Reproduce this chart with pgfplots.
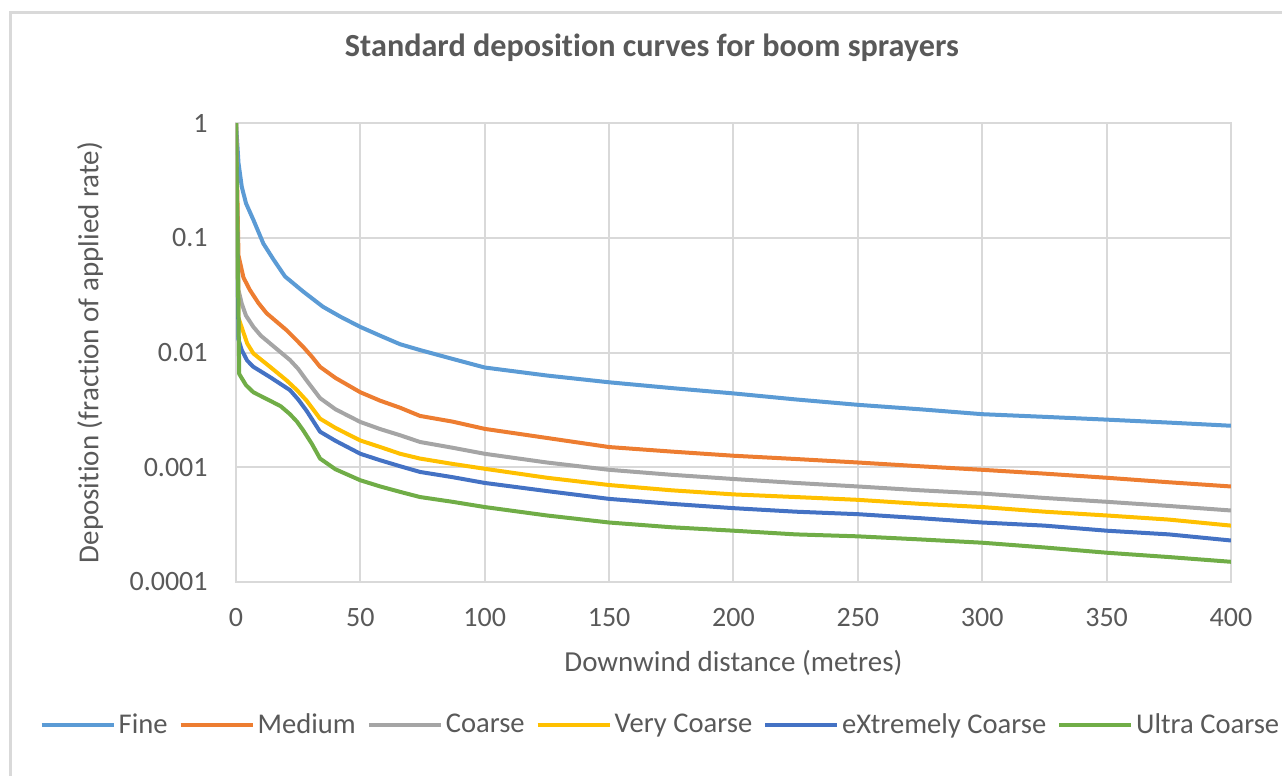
\documentclass[border=0pt]{standalone}
\usepackage{pgfplots}
\pgfplotsset{compat=1.18}
\usepackage{fontspec}
\setmainfont{Carlito}[Ligatures=NoCommon]
\definecolor{txt}{HTML}{595959}
\definecolor{gridc}{HTML}{D9D9D9}
\definecolor{frame}{HTML}{D9D9D9}
\definecolor{cFine}{HTML}{5B9BD5}
\definecolor{cMed}{HTML}{ED7D31}
\definecolor{cCoarse}{HTML}{A5A5A5}
\definecolor{cVC}{HTML}{FFC000}
\definecolor{cEC}{HTML}{4472C4}
\definecolor{cUC}{HTML}{70AD47}
\begin{document}
\begin{tikzpicture}
\useasboundingbox (-118pt,-97pt) rectangle (523pt,291pt);
\draw[color=frame, line width=1.5pt] (-112.5pt,-130pt) rectangle (560pt,284.75pt);
\begin{axis}[
  at={(0,0)}, anchor=south west,
  scale only axis, width=497.5pt, height=229.5pt,
  xmin=0, xmax=400, ymin=1e-4, ymax=1, ymode=log, log basis y=10,
  xtick={0,50,...,400},
  ytick={1e-4,1e-3,1e-2,1e-1,1},
  yticklabels={0.0001,0.001,0.01,0.1,1},
  yminorticks=false,
  grid=major,
  major grid style={draw=gridc, line width=1pt},
  axis line style={draw=gridc, line width=1pt},
  major tick length=0pt,
  tick style={draw=none},
  /pgf/number format/assume math mode=true,
  tick label style={font=\fontsize{14}{16}\selectfont, text=txt, inner sep=0pt},
  xticklabel style={anchor=center, yshift=-18pt},
  yticklabel style={anchor=east, xshift=-14pt},
  title={Standard deposition curves for boom sprayers},
  title style={at={(axis description cs:0.418,1.1373)}, anchor=center, font=\bfseries\fontsize{16.1}{19}\selectfont, text=txt},
  xlabel={Downwind distance (metres)},
  xlabel style={at={(axis description cs:0.5,-0.1765)}, anchor=center, font=\fontsize{14.5}{17}\selectfont, text=txt},
  ylabel={Deposition (fraction of applied rate)},
  ylabel style={at={(axis description cs:-0.1467,0.5)}, anchor=center, rotate=0, font=\fontsize{14.5}{17}\selectfont, text=txt},
  legend style={at={(axis description cs:0.4266,-0.3115)}, anchor=center, draw=none, fill=none,
    font=\fontsize{14.3}{17}\selectfont, text=txt, nodes={inner sep=1pt},
    /tikz/every odd column/.append style={column sep=0.5pt},
    /tikz/every even column/.append style={column sep=4.5pt}},
  legend columns=-1,
  legend image code/.code={\draw[#1, line width=2pt] (0pt,0pt) -- (36pt,0pt);},
  every axis plot/.append style={line width=2pt, line join=round, mark=none},
]
\addplot[cFine] coordinates {(0,1) (1,0.45) (2.3,0.28) (4,0.2) (7,0.143) (11,0.089) (15,0.065) (19.7,0.046) (27,0.034) (35,0.025) (42,0.0205) (50,0.0167) (58,0.014) (66,0.0118) (74,0.0105) (87,0.0088) (100,0.0074) (125,0.0063) (150,0.0055) (175,0.0049) (200,0.0044) (225,0.0039) (250,0.0035) (275,0.0032) (300,0.0029) (325,0.00275) (350,0.0026) (375,0.00245) (400,0.0023)};
\addlegendentry{Fine}
\addplot[cMed] coordinates {(0,1) (1,0.07) (3,0.045) (5.6,0.035) (9,0.027) (12.3,0.022) (20.4,0.0156) (27,0.0112) (30.5,0.0092) (33.8,0.0075) (40,0.006) (50,0.0045) (58,0.0038) (66,0.0033) (74,0.0028) (87,0.0025) (100,0.00216) (125,0.0018) (150,0.0015) (175,0.00137) (200,0.00126) (225,0.00118) (250,0.0011) (275,0.00102) (300,0.00095) (325,0.00088) (350,0.00081) (375,0.00074) (400,0.00068)};
\addlegendentry{Medium}
\addplot[cCoarse] coordinates {(0,1) (1,0.035) (2.3,0.0267) (4,0.021) (7,0.0167) (10,0.014) (13.7,0.012) (21.7,0.0086) (25,0.0072) (28.4,0.0057) (33.8,0.004) (40,0.0032) (50,0.00248) (58,0.00215) (66,0.0019) (74,0.00166) (87,0.00148) (100,0.00131) (125,0.0011) (150,0.00095) (175,0.00086) (200,0.00079) (225,0.00073) (250,0.00068) (275,0.00063) (300,0.00059) (325,0.00054) (350,0.0005) (375,0.00046) (400,0.00042)};
\addlegendentry{Coarse}
\addplot[cVC] coordinates {(0,1) (1,0.02) (2.7,0.0156) (4.5,0.012) (7,0.0098) (13.7,0.0075) (20.4,0.0057) (24.5,0.0047) (28.4,0.0038) (33.8,0.00265) (40,0.0022) (50,0.00171) (58,0.0015) (66,0.00131) (74,0.00119) (87,0.00107) (100,0.00097) (125,0.00081) (150,0.0007) (175,0.00063) (200,0.00058) (225,0.00055) (250,0.00052) (275,0.00048) (300,0.00045) (325,0.00041) (350,0.00038) (375,0.00035) (400,0.00031)};
\addlegendentry{Very Coarse}
\addplot[cEC] coordinates {(0,1) (1,0.013) (2.3,0.0105) (4.5,0.0085) (7,0.0075) (13.7,0.0061) (21.7,0.0047) (25,0.0039) (28.4,0.0031) (33.8,0.00204) (40,0.0017) (50,0.00131) (58,0.00115) (66,0.00102) (74,0.00091) (87,0.00082) (100,0.00073) (125,0.00062) (150,0.00053) (175,0.00048) (200,0.00044) (225,0.00041) (250,0.00039) (275,0.00036) (300,0.00033) (325,0.00031) (350,0.00028) (375,0.00026) (400,0.00023)};
\addlegendentry{eXtremely Coarse}
\addplot[cUC] coordinates {(0,1) (1.3,0.0065) (4,0.0052) (7,0.0045) (13.7,0.0038) (18,0.0034) (21.7,0.0029) (24.5,0.0025) (27,0.0021) (30.5,0.0016) (33.8,0.00119) (40,0.00096) (50,0.00077) (58,0.00068) (66,0.00061) (74,0.00055) (87,0.0005) (100,0.00045) (125,0.00038) (150,0.00033) (175,0.0003) (200,0.00028) (225,0.00026) (250,0.00025) (275,0.000235) (300,0.00022) (325,0.0002) (350,0.00018) (375,0.000165) (400,0.00015)};
\addlegendentry{Ultra Coarse}
\end{axis}
\end{tikzpicture}
\end{document}
